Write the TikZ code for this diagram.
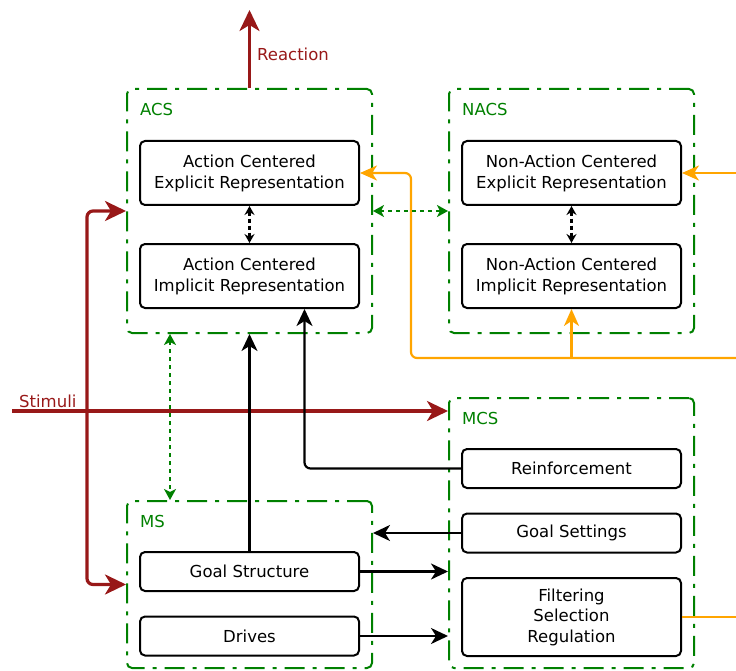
\documentclass[tikz,border=0pt]{standalone}
\usepackage{fontspec}
\setmainfont{DejaVu Sans}
\usetikzlibrary{arrows.meta,positioning}
\tikzset{>={Stealth[length=17pt,width=16pt,inset=5pt]}}
\definecolor{sysgreen}{RGB}{0,128,0}
\definecolor{darkred}{RGB}{152,24,24}
\definecolor{feedorange}{RGB}{255,165,0}
\tikzset{
  system/.style={draw=sysgreen, line width=2pt, dash pattern=on 20pt off 8pt on 4pt off 8pt,
    rounded corners=5pt, minimum width=245pt},
  syslabel/.style={text=sysgreen, anchor=base west, inner sep=0pt},
  module/.style={draw, line width=2pt, rounded corners=5pt, minimum width=219pt,
    align=center, inner sep=0pt},
  flow/.style={->, line width=2.2pt},
  pair/.style={<->, >={Stealth[length=9pt,width=10pt,inset=3pt]}, line width=2.2pt, dash pattern=on 4pt off 3pt},
  syslink/.style={<->, >={Stealth[length=11pt,width=12pt,inset=3pt]}, draw=sysgreen, line width=2.4pt,
    dash pattern=on 4pt off 4pt},
  io/.style={>={Stealth[length=21pt,width=20pt,inset=6pt]}, line width=3.2pt, draw=darkred},
  feed/.style={>={Stealth[length=17pt,width=15pt,inset=5pt]}, line width=2.2pt, draw=feedorange}
}

\begin{document}
\begin{tikzpicture}[x=1pt,y=-1pt,font=\fontsize{16.5}{21}\selectfont]
\useasboundingbox (0,0) rectangle (736,671);
\node[system, minimum height=244pt] (acs) at (249.5,211) {};
\node[system, minimum height=244pt] (nacs) at (571.5,211) {};
\node[system, minimum height=270pt] (mcs) at (571.5,533) {};
\node[system, minimum height=167pt] (ms) at (249.5,584.5) {};
\node[syslabel] (acslbl) at (140,116) {ACS};
\node[syslabel] (nacslbl) at (462,116) {NACS};
\node[syslabel] (mcslbl) at (462,424) {MCS};
\node[syslabel] (mslbl) at (140,527) {MS};
\node[module, minimum height=64pt] (ace) at (249.5,173) {Action Centered\\Explicit Representation};
\node[module, minimum height=64pt] (aci) at (249.5,276) {Action Centered\\Implicit Representation};
\node[module, minimum height=64pt] (nace) at (571.5,173) {Non-Action Centered\\Explicit Representation};
\node[module, minimum height=64pt] (naci) at (571.5,276) {Non-Action Centered\\Implicit Representation};
\node[module, minimum height=39pt] (reinf) at (571.5,468.5) {Reinforcement};
\node[module, minimum height=39pt] (gset) at (571.5,533) {Goal Settings};
\node[module, minimum height=78pt, font=\fontsize{16.5}{20.5}\selectfont] (filt) at (571.5,617) {Filtering\\Selection\\Regulation};
\node[module, minimum height=39pt] (gstruct) at (249.5,571.5) {Goal Structure};
\node[module, minimum height=39pt] (drives) at (249.5,636) {Drives};
\coordinate (reaction) at (249.5,10);
\coordinate (stimuli) at (12,411);
\coordinate (ext1) at (736,173);
\coordinate (ext2) at (736,358);
\coordinate (turn) at (411,173);
\draw[io,->] (acs.north) -- (reaction);
\node[anchor=base west, text=darkred, inner sep=0pt] (reactlbl) at (257,61) {Reaction};
\draw[io,->] (stimuli) -- (stimuli -| mcs.west);
\node[anchor=base west, text=darkred, inner sep=0pt] (stimlbl) at (19,407) {Stimuli};
\draw[io,<->,rounded corners=6pt] (acs.west) -- ++(-39,0) |- (ms.west);
\draw[feed,->] (ext1) -- (nace.east);
\draw[feed,->,rounded corners=6pt] (ext2) -| (turn) -- (ace.east);
\draw[feed,->] (ext2 -| naci.south) -- (naci.south);
\draw[feed] (filt.east) -- (filt.east -| ext2);
\draw[syslink] (acs.east) -- (nacs.west);
\draw[syslink] ([xshift=44pt]acs.south west) -- ([xshift=44pt]ms.north west);
\draw[pair] (ace.south) -- (aci.north);
\draw[pair] (nace.south) -- (naci.north);
\draw[flow] (gstruct.north) -- (acs.south);
\draw[flow,rounded corners=6pt] (reinf.west) -| ([xshift=55pt]aci.south);
\draw[flow] (gset.west) -- (gset.west -| ms.east);
\draw[flow] (gstruct.east) -- (gstruct.east -| mcs.west);
\draw[flow] (drives.east) -- (drives.east -| mcs.west);
\end{tikzpicture}
\end{document}
